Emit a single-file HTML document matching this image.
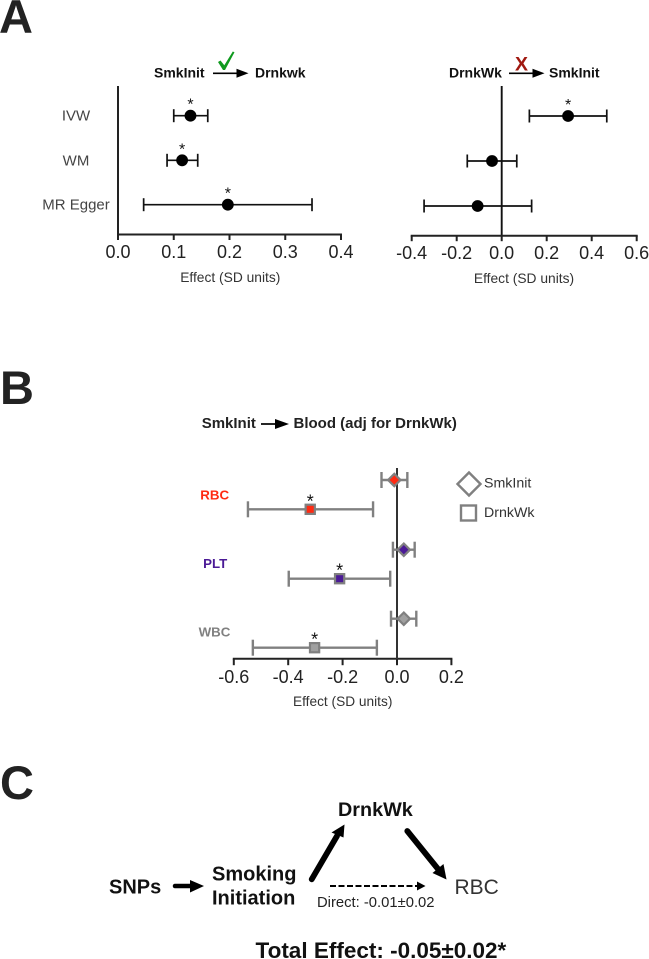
<!DOCTYPE html>
<html lang="en">
<head>
<meta charset="utf-8">
<title>Mendelian randomization forest plots</title>
<style>
html,body{margin:0;padding:0;background:#fff;}
svg{display:block;font-family:"Liberation Sans",Arial,sans-serif;}
</style>
</head>
<body>
<svg id="fig" xmlns="http://www.w3.org/2000/svg" width="649" height="959" viewBox="0 0 649 959">
  <g fill="#222" font-weight="bold" font-size="47">
    <text x="-1" y="33">A</text>
    <text x="0" y="404">B</text>
    <text x="0" y="799">C</text>
  </g>

  <!-- Panel A headers -->
  <text x="154" y="77.700" font-size="14" font-weight="bold" fill="#111">SmkInit</text>
  <line x1="213" y1="73.300" x2="238" y2="73.300" stroke="#000" stroke-width="1.700"/>
  <path d="M236.500 68.800L248.500 73.300L236.500 77.800Z" fill="#000"/>
  <text x="255" y="77.700" font-size="14" font-weight="bold" fill="#111">Drnkwk</text>
  <path d="M218 62L220.500 60.500L224.300 65.300L232.800 51.500L234.500 52.300L225 70L223 70Z" fill="#0f9a1e"/>

  <text x="449" y="77.700" font-size="14" font-weight="bold" fill="#111">DrnkWk</text>
  <line x1="509" y1="73.300" x2="534" y2="73.300" stroke="#000" stroke-width="1.700"/>
  <path d="M532.500 68.800L544.500 73.300L532.500 77.800Z" fill="#000"/>
  <text x="549" y="77.700" font-size="14" font-weight="bold" fill="#111">SmkInit</text>
  <text x="521.500" y="70.700" font-size="19.500" font-weight="bold" fill="#a01810" text-anchor="middle">X</text>

  <g id="a1"></g>
  <g id="a2"></g>

  <!-- Panel B -->
  <text x="201.700" y="428" font-size="15" font-weight="bold" fill="#222">SmkInit</text>
  <line x1="261" y1="424" x2="276" y2="424" stroke="#000" stroke-width="1.700"/>
  <path d="M275 419L289 424L275 429Z" fill="#000"/>
  <text x="293.500" y="428" font-size="15" font-weight="bold" fill="#222">Blood (adj for DrnkWk)</text>
  <g id="b"></g>
  <path d="M469 472.500L480.500 484L469 495.500L457.500 484Z" fill="#fff" stroke="#808080" stroke-width="2.400"/>
  <text x="484" y="487.500" font-size="14.200" fill="#333">SmkInit</text>
  <rect x="461" y="505.500" width="15" height="15" fill="#fff" stroke="#808080" stroke-width="2.400"/>
  <text x="484" y="517" font-size="14.200" fill="#333">DrnkWk</text>

  <!-- Panel C -->
  <g font-weight="bold" fill="#111">
    <text x="109" y="893.300" font-size="20">SNPs</text>
    <text x="212" y="880.700" font-size="20">Smoking</text>
    <text x="212" y="904.700" font-size="20">Initiation</text>
    <text x="338" y="816" font-size="19.800">DrnkWk</text>
  </g>
  <text x="454.500" y="894" font-size="21" fill="#333">RBC</text>
  <line x1="175" y1="886" x2="191" y2="886" stroke="#000" stroke-width="4.500" stroke-linecap="round"/>
  <path d="M190 880L204 886L190 892.500Z" fill="#000"/>
  <line x1="311.700" y1="879.300" x2="337" y2="836" stroke="#000" stroke-width="5.800" stroke-linecap="round"/>
  <path d="M331.500 832.500L344.500 824.500L343.500 837.500Z" fill="#000"/>
  <line x1="407.300" y1="831" x2="438" y2="869" stroke="#000" stroke-width="5.800" stroke-linecap="round"/>
  <path d="M432.500 873L443.500 864L446.500 879.500Z" fill="#000"/>
  <line x1="330" y1="886" x2="418" y2="886" stroke="#000" stroke-width="1.900" stroke-dasharray="6 2.500"/>
  <path d="M417 881.500L425.500 886L417 890.500Z" fill="#000"/>
  <text x="317" y="907" font-size="14.800" fill="#222">Direct: -0.01±0.02</text>
  <text x="255.500" y="958" font-size="22.500" font-weight="bold" fill="#111">Total Effect: -0.05±0.02*</text>
</svg>
<script>
// Panel A left: SmkInit -> Drnkwk
var a1Methods = ['IVW', 'WM', 'MR Egger'];
var a1Est = [0.130, 0.115, 0.197];
var a1Lo = [0.100, 0.088, 0.046];
var a1Hi = [0.161, 0.143, 0.348];
var a1Sig = [true, true, true];
var a1Ticks = ['0.0', '0.1', '0.2', '0.3', '0.4'];

// Panel A right: DrnkWk -> SmkInit
var a2Est = [0.295, -0.043, -0.107];
var a2Lo = [0.123, -0.153, -0.345];
var a2Hi = [0.467, 0.067, 0.133];
var a2Sig = [true, false, false];
var a2Ticks = ['-0.4', '-0.2', '0.0', '0.2', '0.4', '0.6'];

// Panel B: multivariable estimates per blood trait
var bTraits = ['RBC', 'PLT', 'WBC'];
var bSmkEst = [-0.010, 0.025, 0.025];
var bSmkLo = [-0.057, -0.015, -0.022];
var bSmkHi = [0.038, 0.065, 0.071];
var bDrnkEst = [-0.319, -0.211, -0.303];
var bDrnkLo = [-0.548, -0.398, -0.530];
var bDrnkHi = [-0.088, -0.025, -0.074];
var bDrnkSig = [true, true, true];
var bTicks = ['-0.6', '-0.4', '-0.2', '0.0', '0.2'];

var NS = 'http://www.w3.org/2000/svg';
function mk(parent, tag, attrs, name, text) {
  var el = document.createElementNS(NS, tag);
  for (var k in attrs) el.setAttribute(k, attrs[k]);
  
  
  if (text !== undefined) el.textContent = text;
  parent.appendChild(el);
  return el;
}
function xAxis(g, ticks, sx, y, prefix, fs, labelY, tickLen) {
  mk(g, 'line', {x1: sx(+ticks[0]) - 1, x2: sx(+ticks[ticks.length - 1]) + 1, y1: y, y2: y, stroke: '#222', 'stroke-width': 2}, prefix + '-x-axis');
  ticks.forEach(function (t) {
    mk(g, 'line', {x1: sx(+t), x2: sx(+t), y1: y, y2: y + tickLen, stroke: '#222', 'stroke-width': 2}, prefix + '-x-tick');
    mk(g, 'text', {x: sx(+t), y: labelY, 'font-size': fs, fill: '#222', 'text-anchor': 'middle'}, prefix + '-x-tick-label', t);
  });
}
function errBar(g, sx, y, lo, hi, col, w, cap, name) {
  mk(g, 'line', {x1: sx(lo), x2: sx(hi), y1: y, y2: y, stroke: col, 'stroke-width': w}, name + '-whisker');
  mk(g, 'line', {x1: sx(lo), x2: sx(lo), y1: y - cap, y2: y + cap, stroke: col, 'stroke-width': w}, name + '-cap-low');
  mk(g, 'line', {x1: sx(hi), x2: sx(hi), y1: y - cap, y2: y + cap, stroke: col, 'stroke-width': w}, name + '-cap-high');
}
function star(g, x, y, size, name) {
  mk(g, 'text', {x: x, y: y, 'font-size': size, fill: '#111', 'text-anchor': 'middle'}, name, '*');
}

// --- Panel A left
var a1 = document.getElementById('a1');
var sxA1 = function (v) { return 118 + v * 557.5; };
var a1Rows = [115.7, 160.3, 204.7];
mk(a1, 'line', {x1: 118, x2: 118, y1: 86, y2: 235.500, stroke: '#222', 'stroke-width': 2}, 'a1-y-axis');
xAxis(a1, a1Ticks, sxA1, 234.5, 'a1', 18, 258, 5.5);
a1Methods.forEach(function (m, i) {
  var y = a1Rows[i];
  mk(a1, 'text', {x: 76, y: y + 5, 'font-size': 15, fill: '#444', 'text-anchor': 'middle'}, 'a1-method-label', m);
  errBar(a1, sxA1, y, a1Lo[i], a1Hi[i], '#111', 1.7, 6.5, 'a1-error-bar');
  mk(a1, 'circle', {cx: sxA1(a1Est[i]), cy: y, r: 5.9, fill: '#000'}, 'a1-point');
  if (a1Sig[i]) star(a1, sxA1(a1Est[i]), y - 6, 16, 'a1-significance-star');
});
mk(a1, 'text', {x: 230.300, y: 282, 'font-size': 13.8, fill: '#333', 'text-anchor': 'middle'}, 'a1-x-axis-title', 'Effect (SD units)');

// --- Panel A right
var a2 = document.getElementById('a2');
var sxA2 = function (v) { return 501.7 + v * 225; };
var a2Rows = [116, 161, 206];
mk(a2, 'line', {x1: sxA2(0), x2: sxA2(0), y1: 86, y2: 236, stroke: '#111', 'stroke-width': 1.9}, 'a2-zero-line');
xAxis(a2, a2Ticks, sxA2, 235.7, 'a2', 18, 259, 5.5);
a2Est.forEach(function (e, i) {
  var y = a2Rows[i];
  errBar(a2, sxA2, y, a2Lo[i], a2Hi[i], '#111', 1.7, 6.5, 'a2-error-bar');
  mk(a2, 'circle', {cx: sxA2(e), cy: y, r: 5.9, fill: '#000'}, 'a2-point');
  if (a2Sig[i]) star(a2, sxA2(e), y - 6, 16, 'a2-significance-star');
});
mk(a2, 'text', {x: 524, y: 283, 'font-size': 13.8, fill: '#333', 'text-anchor': 'middle'}, 'a2-x-axis-title', 'Effect (SD units)');

// --- Panel B
var b = document.getElementById('b');
var sxB = function (v) { return 397 + v * 272; };
var bSmkRows = [480, 549.7, 618.7];
var bDrnkRows = [509.3, 578.7, 647.7];
var bColors = ['#ff2a12', '#4b1a96', '#a0a0a0'];
var bLabelColors = ['#ff2a12', '#4b1a96', '#808080'];
var bLabelX = [214.7, 215.2, 214.5];
var bLabelY = [499.5, 568, 636.7];
xAxis(b, bTicks, sxB, 658.7, 'b', 18, 683, 6.5);
mk(b, 'line', {x1: sxB(0), x2: sxB(0), y1: 468, y2: 659, stroke: '#333', 'stroke-width': 2}, 'b-zero-line');
bTraits.forEach(function (t, i) {
  mk(b, 'text', {x: bLabelX[i], y: bLabelY[i], 'font-size': 13.3, 'font-weight': 'bold', fill: bLabelColors[i], 'text-anchor': 'middle'}, 'b-trait-label', t);
  var y1 = bSmkRows[i], x1 = sxB(bSmkEst[i]);
  errBar(b, sxB, y1, bSmkLo[i], bSmkHi[i], '#808080', 2.4, 8, 'b-smkinit-error-bar');
  mk(b, 'path', {d: 'M' + x1 + ' ' + (y1 - 6.2) + 'L' + (x1 + 6.2) + ' ' + y1 + 'L' + x1 + ' ' + (y1 + 6.2) + 'L' + (x1 - 6.2) + ' ' + y1 + 'Z', fill: bColors[i], stroke: '#808080', 'stroke-width': 2.2}, 'b-smkinit-point');
  var y2 = bDrnkRows[i], x2 = sxB(bDrnkEst[i]);
  errBar(b, sxB, y2, bDrnkLo[i], bDrnkHi[i], '#808080', 2.4, 8, 'b-drnkwk-error-bar');
  mk(b, 'rect', {x: x2 - 4.6, y: y2 - 4.6, width: 9.2, height: 9.2, fill: bColors[i], stroke: '#808080', 'stroke-width': 2.2}, 'b-drnkwk-point');
  if (bDrnkSig[i]) star(b, x2, y2 - 2, 18, 'b-significance-star');
});
mk(b, 'text', {x: 342.700, y: 706, 'font-size': 13.7, fill: '#333', 'text-anchor': 'middle'}, 'b-x-axis-title', 'Effect (SD units)');
</script>
</body>
</html>
